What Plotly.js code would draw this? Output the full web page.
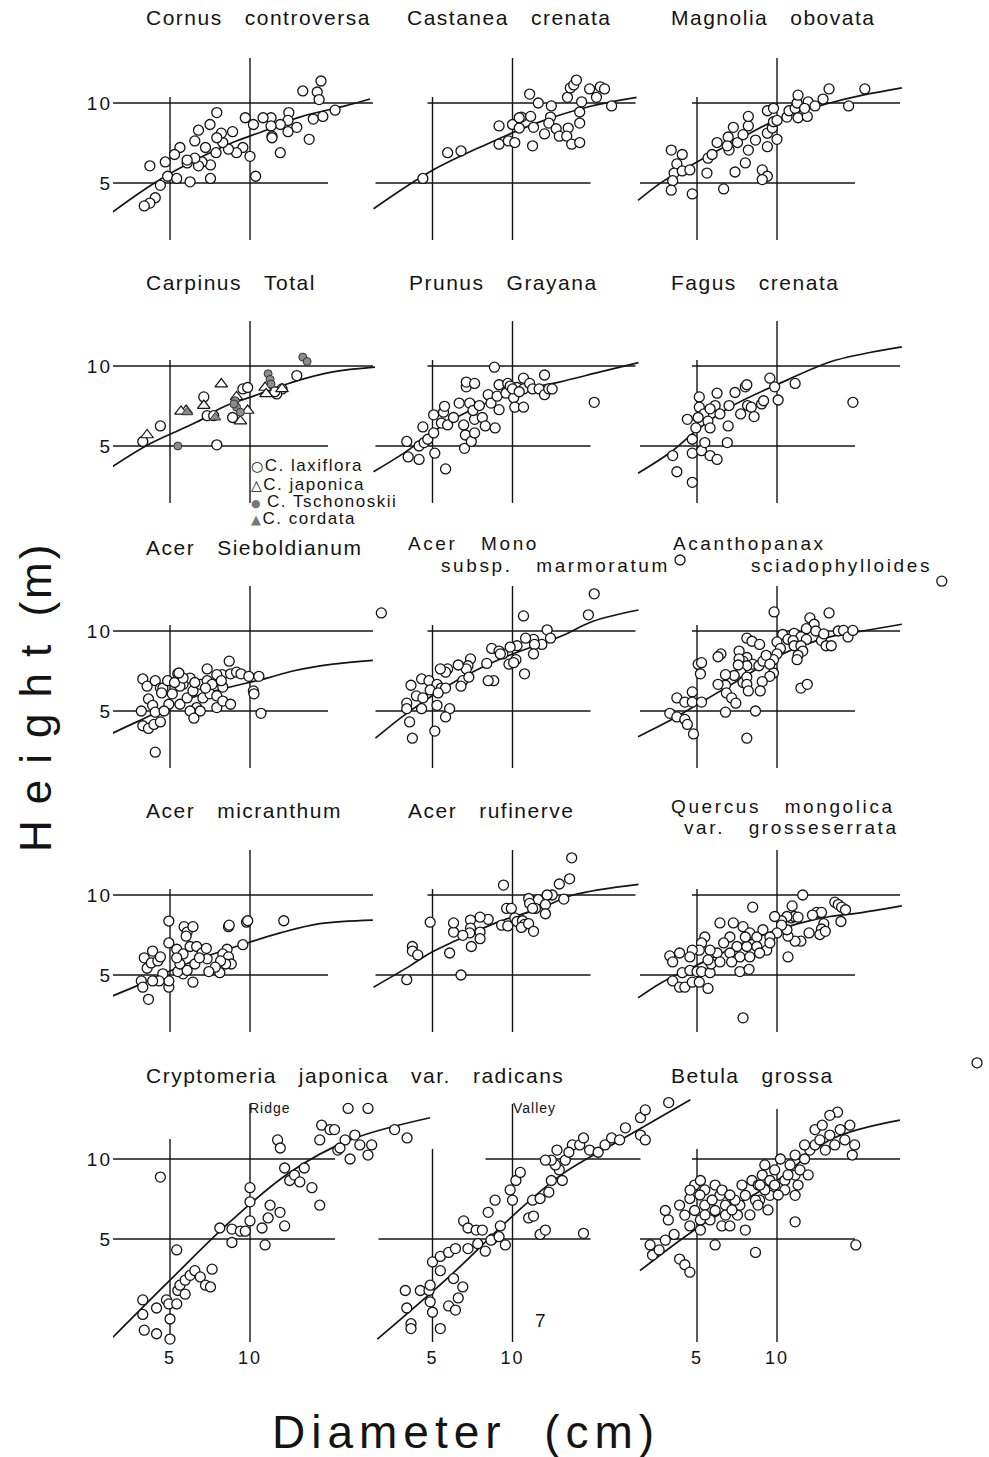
<!DOCTYPE html>
<html><head><meta charset="utf-8">
<script src="https://cdn.plot.ly/plotly-3.0.1.min.js"></script>
<style>html,body{margin:0;padding:0;background:#fff}</style>
</head><body><div id="chart" style="width:989px;height:1457px"></div>
<script>
// ---- data: [diameter (cm), height (m)] ----
const cornus = [[18.5,12.1],[15.8,11.1],[17.9,11.0],[18.2,10.3],[20.9,9.4],[18.8,8.9],[17.3,8.7],[14.0,9.2],[13.9,8.6],[15.0,8.1],[13.9,7.8],[13.0,8.3],[12.0,8.8],[11.2,8.8],[12.0,8.2],[12.1,7.5],[12.1,7.4],[16.7,7.3],[13.0,6.5],[10.3,8.3],[9.6,8.8],[10.0,6.3],[10.5,5.3],[9.4,6.8],[8.9,6.5],[8.6,7.8],[8.3,6.7],[7.9,7.1],[7.8,7.7],[7.5,7.4],[7.5,9.2],[7.07,8.3],[6.4,7.9],[6.2,7.2],[6.8,6.8],[7.45,6.5],[7.1,5.85],[7.1,5.2],[6.6,6.0],[6.4,5.8],[6.2,6.2],[5.8,5.95],[5.8,6.1],[5.45,6.8],[5.2,6.4],[4.8,6.0],[4.2,5.8],[4.9,5.3],[5.3,5.2],[5.95,5.05],[4.6,4.9],[4.4,4.4],[4.2,4.2],[4.0,4.1]];
const cornusFit = [[3.0,3.85],[4.1,4.8],[5.2,5.55],[8.6,7.1],[11.1,7.8],[15.4,8.85],[22.8,9.75],[28.3,10.35]];

const castanea = [[4.6,5.2],[5.7,6.5],[6.4,6.6],[8.9,7.0],[9.65,7.2],[10.2,7.1],[11.9,6.9],[8.9,8.2],[10,8.3],[10.8,8.85],[11.7,8.9],[10.6,8.05],[12.0,8.1],[11.6,10.8],[12.5,10.0],[14.0,9.75],[13.9,8.85],[13.7,8.4],[13.2,7.65],[14.6,8.0],[15.0,7.5],[16.2,8.05],[16.0,7.5],[16.7,7.0],[17.9,7.1],[17.9,8.4],[17.9,9.25],[18.2,10.1],[16.1,10.5],[16.5,11.4],[17.0,11.7],[17.4,12.2],[19.5,11.3],[20.7,10.5],[21.4,11.5],[22.2,11.3],[23.6,9.75],[10.6,8.8]];
const castaneaFit = [[3.0,4.0],[4.95,5.55],[8.0,7.0],[12.3,8.4],[19.5,9.7],[29.3,10.5]];

const magnolia = [[4.0,6.65],[4.4,6.4],[4.2,5.9],[4.1,5.45],[4.05,5.1],[4.4,5.55],[4.7,5.6],[4.0,4.7],[4.8,4.55],[5.45,5.45],[6.3,4.75],[5.5,6.2],[5.7,6.4],[5.95,7.1],[6.55,7.45],[6.6,6.65],[6.5,6.9],[6.85,8.1],[7.1,7.1],[7.45,7.6],[7.8,8.2],[7.8,8.9],[8.3,7.25],[7.8,6.65],[7.6,5.95],[6.95,5.5],[8.8,5.6],[9.2,5.3],[8.8,5.15],[9.2,6.85],[9.2,7.7],[10,7.3],[9.6,8.05],[9.7,8.5],[10,8.6],[9.2,9.35],[9.7,9.55],[10.9,8.85],[11.1,9.35],[11.7,9.55],[12.0,8.8],[11.9,10.0],[12.0,10.7],[13.0,8.9],[13.1,10.1],[13.9,9.75],[14.9,10.35],[15.7,11.3],[18.6,9.75],[21.4,11.3],[12.7,9.55]];
const magnoliaFit = [[3.0,4.3],[3.7,5.05],[5.0,6.0],[7.45,7.45],[10.5,8.85],[15.8,10.0],[21.0,10.7],[29.5,11.4]];

const carpLax = [[3.95,5.2],[4.6,5.95],[7.5,5.05],[6.7,7.65],[6.9,6.5],[7.3,6.5],[9.4,8.2],[9.8,8.3],[8.6,6.4],[13.2,8.2],[12.6,7.85],[15.0,9.2],[12.4,8.0]];
const carpJap = [[4.1,5.5],[5.75,6.8],[5.5,6.75],[7.8,8.55],[6.7,7.1],[8.9,7.65],[9.8,6.8],[9.2,6.2],[11.4,8.3],[11.5,7.85],[13.2,8.2]];
const carpTsch = [[5.35,5.0],[15.8,10.8],[16.4,10.4],[11.7,9.35],[11.9,8.9],[12.0,8.55],[8.8,7.4],[8.9,7.0],[9.2,6.7],[8.7,7.2]];
const carpCord = [[5.8,6.7],[7.4,6.4]];
const carpinusFit = [[3.0,4.15],[4.2,5.1],[6.3,6.15],[7.9,7.0],[10.3,7.7],[14.5,8.7],[20.5,9.5],[29.5,9.9]];

const prunus = [[4.0,5.2],[4.05,4.55],[4.45,4.45],[4.45,5.0],[4.65,5.15],[4.8,5.3],[5.1,4.7],[5.6,4.1],[4.6,5.9],[5.05,5.6],[5.05,6.55],[5.5,6.7],[5.55,7.05],[5.4,6.1],[5.7,6.0],[6.0,6.4],[6.3,7.25],[6.55,6.0],[6.65,5.5],[6.6,4.9],[7.0,5.2],[7.2,5.6],[7.2,6.3],[6.9,7.25],[7.1,6.8],[7.5,7.1],[7.7,6.4],[7.9,5.95],[8.6,5.85],[8.1,7.8],[8.3,7.25],[8.75,7.7],[8.9,6.85],[6.7,8.35],[6.7,8.7],[7.2,8.6],[8.55,9.9],[8.9,8.5],[9.45,7.9],[9.6,8.6],[10.1,7.6],[10.2,7.0],[11.0,7.0],[10.4,8.3],[11.0,9.0],[11.0,8.2],[11.6,8.6],[11.9,8.2],[12.6,8.2],[13.2,9.25],[13.2,7.8],[13.7,8.2],[14.1,8.2],[20.3,7.3],[9.8,8.4],[10.0,8.2],[10.6,8.0]];
const prunusFit = [[3.0,4.0],[3.9,4.7],[5.65,6.1],[8.5,7.45],[12.0,8.3],[15.0,8.7],[21.4,9.5],[29.8,10.3]];

const fagus = [[4.05,4.6],[4.2,4.0],[4.8,3.65],[4.8,4.7],[5.2,4.8],[5.6,4.6],[5.95,4.45],[5.35,5.15],[6.5,5.15],[4.8,5.3],[4.6,6.3],[4.95,5.85],[5.1,7.65],[5.95,7.9],[5.85,7.1],[5.1,7.0],[5.3,6.6],[5.5,6.2],[5.6,5.85],[5.05,6.4],[5.6,6.9],[6.1,6.6],[6.55,5.95],[6.6,7.1],[6.95,7.95],[7.3,6.6],[7.6,8.35],[7.7,8.5],[7.75,7.1],[8.0,7.0],[8.2,6.45],[8.75,7.2],[8.9,7.4],[9.4,9.0],[9.8,8.35],[10.1,7.45],[11.7,8.6],[19.3,7.3]];
const fagusFit = [[3.0,3.95],[4.05,4.8],[5.0,5.75],[6.65,7.0],[10.9,8.85],[15.8,10.35],[21.0,11.1],[29.5,11.8]];

const sieboldianum = [[4.4,3.5],[3.95,4.4],[4.15,4.3],[4.35,4.45],[4.6,4.55],[3.9,5.0],[3.95,6.6],[4.1,6.2],[4.4,6.5],[4.6,6.1],[4.15,5.55],[4.3,5.25],[4.4,4.95],[4.7,6.1],[4.9,6.5],[5.1,5.8],[5.35,6.9],[5.45,5.3],[5.6,6.3],[5.8,5.6],[5.95,6.65],[6.1,5.95],[6.3,5.15],[6.5,6.3],[6.65,5.6],[6.9,6.5],[7.07,5.8],[5.45,6.2],[4.95,5.3],[5.95,5.0],[4.75,5.0],[6.5,5.0],[7.2,6.3],[5.2,6.4],[6.2,6.4],[5.6,6.65],[4.65,5.85],[6.8,6.1],[6.15,4.7],[5.4,6.95],[6.9,7.2],[8.35,7.7],[7.85,6.85],[8.45,6.9],[8.9,7.0],[9.25,6.9],[9.9,6.75],[10.8,6.75],[7.9,6.15],[7.5,5.7],[7.5,5.15],[7.9,5.45],[8.45,5.3],[10.3,5.95],[10.35,5.8],[11.0,4.9],[31.2,11.7],[7.5,6.85],[7.8,6.5]];
const sieboldianumFit = [[3.0,4.1],[3.75,4.55],[6.0,5.6],[11.6,6.65],[14.5,7.07],[20.5,7.5],[29.0,7.75]];

const acerMono = [[20.3,13.8],[19.3,11.5],[11.0,11.4],[13.5,10.1],[13.9,9.4],[12.9,8.9],[12.0,9.3],[12.1,8.9],[11.2,9.4],[10.4,8.8],[9.8,8.7],[12.0,8.2],[11.1,6.9],[10.3,7.8],[9.7,7.5],[10.1,7.6],[9.2,8.2],[8.35,8.6],[8.9,8.4],[9.0,8.2],[8.0,7.55],[8.5,6.5],[8.1,6.5],[6.95,7.85],[6.8,7.4],[6.7,7.2],[6.25,7.45],[6.5,6.5],[6.4,6.2],[6.85,6.7],[5.7,7.2],[5.6,7.0],[5.35,7.2],[4.55,6.6],[4.85,6.5],[5.2,6.3],[5.4,6.1],[5.6,6.1],[4.15,6.25],[4.9,6.0],[5.25,5.85],[4.35,5.7],[4.6,5.6],[4.0,5.35],[4.0,5.1],[4.55,5.1],[5.2,5.25],[5.8,5.1],[5.6,4.75],[4.1,4.55],[4.2,3.95],[5.1,4.2],[42.7,18.5]];
const acerMonoFit = [[3.05,3.95],[4.0,4.9],[6.15,6.5],[9.0,7.85],[15.2,9.55],[20.2,10.9],[29.8,12.0]];

const acanthopanax = [[41.7,15.4],[9.75,11.8],[15.7,11.7],[13.3,11.2],[13.8,10.6],[12.9,10.2],[14.0,10.0],[11.6,9.8],[12.3,9.5],[12.9,9.3],[10.5,9.7],[11.0,9.3],[11.5,9.2],[11.6,8.8],[12.3,8.8],[12.5,8.4],[12.0,8.1],[11.9,7.8],[10.0,9.1],[10.3,8.6],[10.0,8.2],[9.7,7.8],[9.7,6.95],[9.4,6.75],[8.8,6.45],[8.65,5.95],[14.7,9.2],[15.3,8.8],[16.0,8.8],[15.0,9.75],[17.0,10.0],[17.8,10.05],[18.5,9.5],[19.3,10.05],[12.3,6.1],[13.0,6.3],[7.7,9.4],[8.05,9.15],[8.6,8.9],[7.7,7.95],[8.1,7.5],[8.55,7.4],[8.85,7.7],[9.1,8.1],[9.4,7.5],[7.45,7.7],[7.7,7.4],[7.3,7.0],[7.2,8.4],[7.2,7.85],[6.15,8.2],[6.0,8.0],[7.15,7.45],[6.9,6.8],[7.45,6.4],[7.7,6.7],[7.7,6.3],[7.8,5.95],[6.4,6.85],[6.4,6.25],[6.0,6.3],[6.45,5.85],[6.75,5.6],[7.0,5.35],[5.05,7.5],[5.15,6.9],[5.2,7.6],[4.8,5.9],[4.2,5.6],[4.5,5.4],[4.8,5.4],[5.2,5.4],[3.95,4.9],[4.2,4.75],[4.5,4.65],[4.6,4.45],[4.85,4.1],[6.4,4.95],[8.3,5.0],[7.7,3.95]];
const acanthopanaxFit = [[3.0,4.0],[3.95,4.6],[5.2,5.4],[7.3,6.6],[10.5,8.2],[15.8,9.5],[21.0,10.0],[29.5,10.6]];

const micranthum = [[4.95,7.98],[5.65,7.6],[5.8,7.25],[6.1,7.6],[5.75,7.0],[4.95,6.6],[8.3,7.6],[8.35,7.7],[9.7,7.9],[9.8,8.0],[13.4,8.0],[9.4,6.5],[8.2,6.25],[7.9,6.0],[8.3,5.85],[8.5,5.5],[8.1,5.5],[7.75,5.65],[7.7,5.1],[7.4,5.35],[7.0,5.15],[6.1,4.7],[5.6,5.05],[5.35,5.15],[4.95,4.5],[4.95,4.75],[4.7,5.05],[4.55,4.75],[4.3,4.75],[4.3,6.15],[4.0,5.8],[4.1,5.3],[4.25,5.55],[3.9,4.75],[3.95,4.5],[4.15,4.05],[5.3,6.25],[5.6,6.0],[5.95,6.4],[6.3,6.4],[6.6,6.05],[6.9,5.75],[5.45,5.5],[6.2,5.5],[5.8,5.2],[6.45,5.8],[6.85,6.3],[5.3,5.8],[4.5,5.65],[4.6,5.85]];
const micranthumFit = [[3.0,4.15],[3.75,4.55],[6.0,5.6],[10.0,6.65],[13.0,7.2],[18.3,7.8],[29.0,8.05]];

const rufinerve = [[16.7,13.8],[16.4,11.5],[15.0,11.0],[9.25,10.9],[15.6,9.65],[14.1,10.0],[13.5,10.0],[12.5,9.6],[11.5,9.7],[11.6,9.3],[12.2,8.9],[11.9,8.9],[13.3,9.2],[13.3,8.5],[9.5,8.9],[9.9,8.9],[10.2,8.2],[10.4,7.95],[10.9,8.0],[11.1,7.75],[10.8,7.55],[11.5,7.8],[12.0,7.3],[9.1,7.7],[9.6,7.65],[8.1,8.1],[7.55,8.25],[6.95,8.05],[6.95,7.5],[6.9,7.2],[7.55,7.25],[7.55,6.85],[7.0,6.4],[6.5,7.05],[6.0,7.25],[6.0,7.85],[5.8,6.05],[4.9,7.9],[4.2,6.4],[4.2,6.15],[4.4,5.95],[4.0,4.8],[6.4,5.0]];
const rufinerveFit = [[3.0,4.5],[4.1,5.4],[4.83,6.0],[6.07,6.71],[8.7,7.87],[12.9,8.96],[16.9,10.0],[29.8,10.97]];

const quercus = [[12.5,10.0],[11.4,9.1],[8.1,9.0],[16.5,9.4],[17.0,9.2],[17.5,9.0],[18.1,8.8],[14.1,8.6],[14.7,8.6],[13.6,8.4],[17.4,7.95],[15.0,7.8],[14.7,7.45],[14.5,7.1],[15.2,7.3],[13.2,7.2],[12.3,6.7],[11.7,6.7],[11.0,7.0],[10.9,7.4],[11.3,8.2],[11.6,8.3],[12.0,8.25],[10.9,8.3],[10.4,8.0],[10.4,7.7],[11.0,5.85],[9.8,8.3],[10.0,7.2],[6.1,7.85],[6.85,7.85],[7.45,7.6],[7.9,7.2],[8.4,6.95],[8.85,7.4],[9.4,6.95],[6.65,6.95],[6.3,6.6],[7.07,6.4],[7.7,6.4],[8.4,6.4],[9.15,6.2],[6.65,6.05],[7.25,5.85],[7.9,5.85],[8.6,6.05],[5.95,6.05],[5.6,6.2],[9.4,6.6],[7.6,6.95],[6.75,5.6],[7.25,5.15],[7.85,5.25],[5.35,6.95],[5.2,6.6],[5.1,6.2],[4.8,6.2],[4.7,5.85],[4.3,6.05],[3.95,5.9],[4.05,5.6],[4.05,4.75],[4.3,4.5],[4.5,4.5],[4.8,4.7],[5.1,4.7],[5.5,4.45],[4.4,5.1],[4.7,5.2],[5.0,5.15],[5.2,5.15],[5.6,5.1],[5.65,5.5],[5.5,5.7],[6.1,5.6],[7.45,3.45]];
const quercusFit = [[3.0,4.1],[3.7,4.7],[5.5,5.7],[8.0,6.8],[12.0,7.8],[15.8,8.3],[20.2,8.55],[29.5,9.1]];

const ridge = [[4.0,2.27],[3.95,2.95],[3.95,2.6],[4.45,2.75],[4.6,8.55],[4.45,2.2],[5.0,2.5],[5.0,2.1],[5.3,4.55],[5.35,3.2],[5.45,3.35],[5.7,3.5],[5.95,3.65],[6.2,3.8],[6.5,3.6],[6.8,3.35],[7.1,3.3],[7.2,3.85],[7.7,5.5],[8.55,5.45],[9.2,5.35],[9.6,5.35],[10.0,5.85],[10.0,6.9],[10.0,7.8],[8.55,4.85],[11.1,5.5],[11.4,4.75],[11.7,6.0],[12.97,6.3],[13.5,5.6],[11.9,6.7],[12.7,11.8],[13.0,11.0],[13.5,9.25],[14.1,8.3],[14.7,8.7],[15.4,8.2],[16.0,9.25],[17.1,7.8],[18.3,6.7],[18.3,11.8],[18.6,13.4],[20.0,12.9],[20.8,12.9],[21.4,10.8],[22.8,11.8],[23.4,15.5],[24.8,12.3],[25.9,11.3],[28.7,11.3],[27.8,10.35],[23.8,10.0],[21.8,11.0],[27.8,15.5],[35.0,12.9],[39.0,12.0],[4.85,2.95],[4.95,2.85],[5.3,2.85],[5.7,3.1]];
const ridgeFit = [[3.0,2.1],[5.0,3.5],[8.4,5.8],[14.1,8.9],[23.8,11.8],[47.6,14.3]];

const valley = [[3.95,3.2],[4.0,2.75],[4.15,2.4],[4.15,2.3],[4.5,3.2],[4.85,3.2],[4.9,2.9],[5.0,2.65],[5.35,2.3],[5.75,2.8],[6.1,2.7],[6.25,3.0],[6.5,3.3],[6.0,3.55],[5.35,3.8],[4.9,3.35],[5.0,4.1],[5.35,4.3],[5.75,4.45],[6.1,4.6],[6.8,4.6],[7.4,4.8],[7.9,4.5],[8.4,5.0],[6.55,5.85],[6.8,5.5],[7.3,5.4],[7.7,5.4],[8.3,4.95],[8.9,5.1],[8.1,6.3],[8.6,7.0],[9.0,5.6],[9.4,4.75],[9.8,7.65],[10.3,8.3],[10.7,8.9],[10.0,7.0],[11.5,6.0],[12.0,6.1],[12.7,5.2],[13.3,5.4],[11.9,7.0],[12.7,7.1],[13.7,7.5],[14.0,8.3],[15.4,8.3],[15.0,9.1],[14.5,9.5],[14.0,9.9],[14.7,10.8],[15.8,9.9],[16.8,11.3],[17.9,11.3],[18.5,12.0],[19.5,10.8],[21.0,10.6],[22.3,11.3],[23.6,12.0],[25.3,11.8],[26.6,13.1],[30.3,12.3],[31.6,11.8],[30.3,14.3],[31.6,15.3],[38.7,16.3],[18.5,5.25],[13.3,9.9],[16.3,10.6]];
const valleyFit = [[3.1,2.1],[5.85,3.65],[10.0,6.1],[15.2,8.7],[25.5,11.8],[46.7,16.7]];

const betula = [[3.33,4.75],[3.4,4.35],[3.6,4.55],[3.8,4.95],[3.9,5.9],[3.8,6.4],[4.3,6.7],[4.7,7.1],[4.9,7.98],[5.15,8.3],[5.35,7.65],[5.85,7.98],[6.1,7.3],[6.2,5.6],[6.65,5.6],[7.1,6.15],[7.25,6.7],[7.6,5.4],[8.05,8.3],[8.5,7.98],[8.8,8.7],[9.0,9.5],[9.4,8.3],[9.8,9.1],[10.3,10.0],[11.2,9.5],[11.7,8.7],[12.2,9.1],[12.7,10.0],[13.3,10.8],[13.9,11.3],[14.5,11.8],[15.2,10.8],[15.8,12.3],[16.5,11.3],[16.9,15.0],[17.3,12.9],[18.0,11.8],[18.8,13.4],[19.6,11.3],[19.8,4.75],[4.3,4.2],[4.5,4.0],[4.7,3.75],[5.85,4.75],[8.3,4.45],[11.7,5.8],[4.1,5.2],[5.15,5.4],[5.6,5.9],[6.4,6.7],[8.6,7.0],[9.4,7.3],[10.7,8.3],[11.7,10.35],[12.7,11.3],[13.9,12.9],[14.8,13.4],[15.8,14.6],[19.2,10.35],[56.6,23.0],[4.5,6.15],[4.9,6.4],[5.35,6.7],[5.85,6.4],[6.4,6.15],[6.95,7.0],[7.6,7.3],[8.3,7.0],[9.0,7.65],[9.8,7.98],[10.7,7.65],[11.7,7.3],[4.7,5.6],[5.15,5.9],[5.36,6.16],[5.7,7.01],[6.21,7.64],[6.77,6.43],[7.38,7.98],[7.91,6.16],[8.48,6.71],[9.25,6.43],[10.1,7.32],[11.0,8.71],[12.0,7.98],[13.1,8.71],[4.71,7.64],[5.13,7.32],[6.65,7.32],[8.63,7.98]];
const betulaFit = [[3.05,3.8],[5.15,5.6],[10.0,8.3],[15.8,11.8],[29.0,14.0]];

const tickVals = [5, 10];
const tickText = ['5', '10'];

// ---- layout geometry ----
const W = 989, HT = 1457;
const K = 80 / Math.log10(2);              // px per decade (both axes)
const X10 = [250, 512.5, 777];             // pixel of D = 10 for each column
const Y10 = [103, 366, 631, 895, 1159];    // pixel of H = 10 for each row
const FONT = 'Liberation Sans, Arial, Helvetica, sans-serif';
const INK = '#141414';

const panels = [
  {col:0,row:0, series:[[cornus,'o']], fit:cornusFit},
  {col:1,row:0, series:[[castanea,'o']], fit:castaneaFit},
  {col:2,row:0, series:[[magnolia,'o']], fit:magnoliaFit},
  {col:0,row:1, series:[[carpLax,'o'],[carpJap,'t'],[carpTsch,'g'],[carpCord,'gt']], fit:carpinusFit},
  {col:1,row:1, series:[[prunus,'o']], fit:prunusFit},
  {col:2,row:1, series:[[fagus,'o']], fit:fagusFit},
  {col:0,row:2, series:[[sieboldianum,'o']], fit:sieboldianumFit},
  {col:1,row:2, series:[[acerMono,'o']], fit:acerMonoFit},
  {col:2,row:2, series:[[acanthopanax,'o']], fit:acanthopanaxFit},
  {col:0,row:3, series:[[micranthum,'o']], fit:micranthumFit},
  {col:1,row:3, series:[[rufinerve,'o']], fit:rufinerveFit},
  {col:2,row:3, series:[[quercus,'o']], fit:quercusFit},
  {col:0,row:4, series:[[ridge,'o']], fit:ridgeFit},
  {col:1,row:4, series:[[valley,'o']], fit:valleyFit},
  {col:2,row:4, series:[[betula,'o']], fit:betulaFit}
];

const markerStyles = {
  o:  {symbol:'circle', size:10, color:'#ffffff', line:{color:INK, width:1.3}},
  t:  {symbol:'triangle-up', size:11, color:'#ffffff', line:{color:INK, width:1.2}},
  g:  {symbol:'circle', size:8, color:'#8c8c8c', line:{color:'#333', width:1}},
  gt: {symbol:'triangle-up', size:10, color:'#8c8c8c', line:{color:'#333', width:1}}
};

const layout = {
  width: W, height: HT, margin:{l:0,r:0,t:0,b:0,pad:0},
  paper_bgcolor:'#ffffff', plot_bgcolor:'rgba(0,0,0,0)',
  showlegend:false, font:{family:FONT, color:INK},
  shapes:[], annotations:[]
};
const traces = [];
const px2d = off => 10 * Math.pow(2, off / 80);     // x pixel offset from D=10 -> D
const py2h = off => 10 * Math.pow(2, -off / 80);    // y pixel offset (down) from H=10 -> H

// crosshair extents (px offsets relative to the 10/10 cross)
function crossSpec(col, row) {
  if (row === 4) {
    return [
      {h10:[-137, 85], h5:[-137, 85], v5:[-20, 183], v10:[-55, 183]},
      {h10:[-27, 128], h5:[-134, 78], v5:[-10, 183], v10:[-55, 183]},
      {h10:[-85, 123], h5:[-137, 78], v5:[-10, 183], v10:[-50, 183]}
    ][col];
  }
  return {h10:[col === 0 ? -137 : -85, 123], h5:[-137, 78], v5:[-6, 137], v10:[-45, 137]};
}

const tickFmt = t => '<span style="letter-spacing:2px">' + t + '</span>';

panels.forEach((p, i) => {
  const id = i === 0 ? '' : String(i + 1);
  const xr = X10[p.col], yr = Y10[p.row];
  const L = xr + (p.col === 0 ? -137 : -150);
  const R = Math.min(W - 1, xr + 208);
  const T = Math.max(0, yr - 115);
  const B = yr + (p.row === 4 ? 186 : 190);
  layout['xaxis' + id] = {
    type:'log', domain:[L / W, R / W], range:[1 + (L - xr) / K, 1 + (R - xr) / K],
    anchor:'y' + id, showgrid:false, zeroline:false, showline:false, ticks:'',
    showticklabels: p.row === 4, tickvals:tickVals, ticktext:tickText.map(tickFmt),
    tickfont:{size:18, family:FONT, color:INK}, fixedrange:true
  };
  layout['yaxis' + id] = {
    type:'log', domain:[1 - B / HT, 1 - T / HT], range:[1 - (B - yr) / K, 1 + (yr - T) / K],
    anchor:'x' + id, showgrid:false, zeroline:false, showline:false, ticks:'',
    showticklabels: p.col === 0, tickvals:tickVals, ticktext:tickText.map(tickFmt),
    tickfont:{size:19, family:FONT, color:INK}, fixedrange:true
  };
  const s = crossSpec(p.col, p.row);
  const ln = {color:INK, width:1.4};
  const xa = 'x' + id, ya = 'y' + id;
  layout.shapes.push({type:'line', layer:'below', xref:xa, yref:ya, x0:px2d(s.h10[0]), x1:px2d(s.h10[1]), y0:10, y1:10, line:ln});
  layout.shapes.push({type:'line', layer:'below', xref:xa, yref:ya, x0:px2d(s.h5[0]), x1:px2d(s.h5[1]), y0:5, y1:5, line:ln});
  layout.shapes.push({type:'line', layer:'below', xref:xa, yref:ya, x0:5, x1:5, y0:py2h(s.v5[0]), y1:py2h(s.v5[1]), line:ln});
  layout.shapes.push({type:'line', layer:'below', xref:xa, yref:ya, x0:10, x1:10, y0:py2h(s.v10[0]), y1:py2h(s.v10[1]), line:ln});

  traces.push({type:'scatter', mode:'lines', xaxis:xa, yaxis:ya,
    x:p.fit.map(d => d[0]), y:p.fit.map(d => d[1]),
    line:{color:INK, width:1.7, shape:'spline'}, hoverinfo:'skip'});
  p.series.forEach(([data, st]) => {
    traces.push({type:'scatter', mode:'markers', xaxis:xa, yaxis:ya, cliponaxis:false,
      x:data.map(d => d[0]), y:data.map(d => d[1]), marker:markerStyles[st], hoverinfo:'skip'});
  });
});

// ---- text ----
const SP = '\u00a0\u00a0\u00a0';
function txt(s, left, cy, size, ls, extra) {
  layout.annotations.push(Object.assign({
    xref:'paper', yref:'paper', x:left / W, y:1 - cy / HT, xanchor:'left', yanchor:'middle',
    showarrow:false, borderpad:0,
    text:'<span style="letter-spacing:' + ls + 'px">' + s + '</span>',
    font:{size:size, family:FONT, color:INK}
  }, extra || {}));
}
const T1 = 21, LS = 1.5, T2 = 19, LS2 = 2.6;
txt('Cornus' + SP + 'controversa', 145, 18, T1, LS);
txt('Castanea' + SP + 'crenata', 406, 18, T1, LS);
txt('Magnolia' + SP + 'obovata', 670, 18, T1, LS);
txt('Carpinus' + SP + 'Total', 145, 282, T1, LS);
txt('Prunus' + SP + 'Grayana', 408, 282, T1, LS);
txt('Fagus' + SP + 'crenata', 670, 282, T1, LS);
txt('Acer' + SP + 'Sieboldianum', 145, 547, T1, LS);
txt('Acer' + SP + 'Mono', 407, 543, T2, LS2);
txt('subsp.' + SP + 'marmoratum', 440, 565, T2, LS2);
txt('Acanthopanax', 672, 543, T2, LS2);
txt('sciadophylloides', 750, 565, T2, LS2);
txt('Acer' + SP + 'micranthum', 145, 810, T1, LS);
txt('Acer' + SP + 'rufinerve', 407, 810, T1, LS);
txt('Quercus' + SP + 'mongolica', 670, 806, T2, LS2);
txt('var.' + SP + 'grosseserrata', 683, 828, T2, LS2);
txt('Cryptomeria' + SP + 'japonica' + SP + 'var.' + SP + 'radicans', 145, 1075, T1, LS);
txt('Betula' + SP + 'grossa', 670, 1075, T1, LS);
txt('Ridge', 248, 1108, 14, 1);
txt('Valley', 512, 1108, 14, 1);
txt('7', 534, 1320, 19, 0);

// Carpinus legend
const sym = (c, col, sz) => '<span style="font-family:DejaVu Sans;font-size:' + sz + 'px;color:' + col + '">' + c + '</span>';
txt(sym('\u25CB', '#111', 14) + 'C. laxiflora', 250, 466, 17, 1.5);
txt(sym('\u25B3', '#111', 14) + 'C. japonica', 250, 484, 17, 1.5);
txt(sym('\u25CF', '#777', 11) + '\u2009C. Tschonoskii', 250, 501, 17, 1.5);
txt(sym('\u25B2', '#777', 13) + 'C. cordata', 250, 518, 17, 1.5);

// axis titles
layout.annotations.push({xref:'paper', yref:'paper', x:35 / W, y:1 - 697 / HT, xanchor:'center', yanchor:'middle',
  showarrow:false, textangle:-90, borderpad:0,
  text:'<span style="letter-spacing:16px">Height</span>\u00a0<span style="letter-spacing:3px">(m)</span>',
  font:{size:44, family:FONT, color:INK}});
layout.annotations.push({xref:'paper', yref:'paper', x:466 / W, y:1 - 1432 / HT, xanchor:'center', yanchor:'middle',
  showarrow:false, borderpad:0,
  text:'<span style="letter-spacing:6px">Diameter' + '\u00a0\u00a0' + '(cm)</span>', font:{size:46, family:FONT, color:INK}});

Plotly.newPlot('chart', traces, layout, {staticPlot:true, displayModeBar:false});
</script>
</body></html>
